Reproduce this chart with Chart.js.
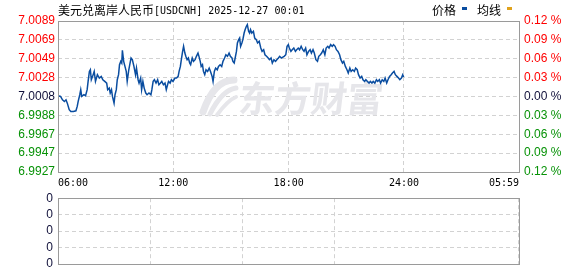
<!DOCTYPE html>
<html><head><meta charset="utf-8">
<script src="https://cdn.jsdelivr.net/npm/chart.js@4.4.1/dist/chart.umd.min.js"></script>
<style>
html,body{margin:0;padding:0;background:#fff;width:578px;height:276px;overflow:hidden}
#c1{position:absolute;left:0;top:0}
#c2{position:absolute;left:0;top:186px}
</style></head><body>
<canvas id="c1" width="578" height="190"></canvas>
<canvas id="c2" width="578" height="90"></canvas>
<script>
// ---- data (minutes after 06:00, price) ----
const minutes=[0,8,14,20,25,29,35,40,48,56,
60,63,68,71,74,81,86,91,94,98,
101,104,108,113,117,123,129,135,140,146,
152,155,160,163,167,170,175,178,182,185,
189,192,196,199,201,205,209,213,216,221,
224,228,232,237,242,245,250,253,258,261,
265,269,274,278,284,290,293,297,301,306,
311,315,320,324,329,334,338,342,345,350,
354,359,365,370,375,378,382,385,389,392,
396,399,403,407,411,414,419,423,428,432,
437,440,444,447,451,454,458,462,467,472,
476,481,484,488,492,497,501,506,511,515,
520,524,529,534,538,543,546,550,553,557,
560,564,567,570,574,577,581,584,588,591,
595,598,601,605,610,614,619,623,628,633,
637,642,646,651,656,660,665,669,674,679,
683,688,692,697,702,706,711,715,719,722,
727,731,736,741,745,750,754,759,764,768,
773,777,782,787,791,796,800,805,810,814,
819,823,828,833,837,842,846,851,856,860,
865,869,874,879,883,888,892,897,902,906,
911,915,920,925,929,934,938,943,948,952,
957,961,966,971,975,980,984,989,994,998,
1003,1007,1012,1017,1021,1026,1030,1035,1040,1044,
1049,1053,1058,1063,1067,1072,1076,1079];
const prices=[7.00088,7.00081,7.00045,7.00027,7.00045,7.00009,6.99938,6.99920,6.99920,6.99927,
6.99974,7.00027,7.00099,7.00153,7.00081,7.00099,7.00088,7.00153,7.00242,7.00349,
7.00367,7.00260,7.00296,7.00349,7.00242,7.00314,7.00278,7.00296,7.00260,7.00242,
7.00224,7.00153,7.00170,7.00117,7.00153,7.00081,7.00009,7.00099,7.00153,7.00260,
7.00314,7.00421,7.00457,7.00439,7.00575,7.00457,7.00403,7.00349,7.00242,7.00367,
7.00421,7.00493,7.00475,7.00403,7.00314,7.00385,7.00260,7.00224,7.00278,7.00153,
7.00242,7.00170,7.00117,7.00099,7.00117,7.00099,7.00153,7.00242,7.00260,7.00224,
7.00260,7.00206,7.00224,7.00242,7.00206,7.00224,7.00153,7.00206,7.00242,7.00224,
7.00260,7.00242,7.00278,7.00278,7.00296,7.00349,7.00403,7.00475,7.00564,7.00618,
7.00546,7.00511,7.00475,7.00493,7.00439,7.00421,7.00493,7.00457,7.00475,7.00511,
7.00546,7.00511,7.00457,7.00403,7.00421,7.00349,7.00314,7.00367,7.00349,7.00385,
7.00349,7.00296,7.00242,7.00349,7.00385,7.00367,7.00403,7.00421,7.00403,7.00457,
7.00493,7.00528,7.00511,7.00546,7.00511,7.00493,7.00457,7.00439,7.00493,7.00564,
7.00654,7.00690,7.00707,7.00618,7.00654,7.00690,7.00761,7.00797,7.00833,7.00851,
7.00779,7.00761,7.00797,7.00761,7.00779,7.00707,7.00690,7.00654,7.00672,7.00600,
7.00564,7.00582,7.00528,7.00511,7.00493,7.00475,7.00493,7.00439,7.00475,7.00457,
7.00475,7.00493,7.00511,7.00493,7.00503,7.00511,7.00528,7.00618,7.00636,7.00600,
7.00564,7.00582,7.00600,7.00564,7.00582,7.00600,7.00582,7.00618,7.00582,7.00564,
7.00600,7.00528,7.00564,7.00582,7.00546,7.00582,7.00546,7.00475,7.00457,7.00511,
7.00528,7.00546,7.00582,7.00528,7.00600,7.00618,7.00600,7.00636,7.00618,7.00636,
7.00618,7.00582,7.00564,7.00528,7.00475,7.00439,7.00457,7.00403,7.00367,7.00332,
7.00385,7.00349,7.00367,7.00349,7.00385,7.00367,7.00314,7.00278,7.00296,7.00260,
7.00242,7.00260,7.00242,7.00224,7.00242,7.00224,7.00242,7.00224,7.00260,7.00242,
7.00260,7.00224,7.00260,7.00242,7.00278,7.00224,7.00260,7.00296,7.00314,7.00332,
7.00349,7.00314,7.00296,7.00278,7.00260,7.00278,7.00314,7.00289];
const priceMin=6.9927, priceMax=7.0089;
const priceLabels=['6.9927','6.9947','6.9967','6.9988','7.0008','7.0028','7.0049','7.0069','7.0089'];
const pctLabels=['0.12 %','0.09 %','0.06 %','0.03 %','0.00 %','0.03 %','0.06 %','0.09 %','0.12 %'];
const timeTickValues=[0,360,720,1080,1439];
const timeLabels=['06:00','12:00','18:00','24:00','05:59'];
const volumes=[];
const volLabels=['0','0','0','0','0'];
const titleCn='美元兑离岸人民币', titleEn='[USDCNH] 2025-12-27 00:01';
const legendItems=[{text:'价格',color:'#0a4da0'},{text:'均线',color:'#e0a21c'}];
const watermark='东方财富';

// ---- style ----
const RED='#ff0000', GREEN='#079207', ZERO='#10103a', GRID='#d2d2d2', BOX='#9a9a9a';
const LEFTW=58, RIGHTW=59;
Chart.defaults.font.family='"Liberation Sans", Arial, sans-serif';
Chart.defaults.font.size=12;

function labelColor(i){ return i>4?RED:(i===4?ZERO:GREEN); }
function evenTicks(scale,n){ const t=[]; for(let i=0;i<n;i++) t.push({value:scale.min+(scale.max-scale.min)*i/(n-1)}); scale.ticks=t; }
const gridColor=(ctx)=>{ const n=ctx.scale.ticks.length; return (ctx.index===0||ctx.index===n-1)?'rgba(0,0,0,0)':GRID; };

const boxPlugin={id:'box',afterDraw(chart){const a=chart.chartArea,c=chart.ctx;c.save();c.strokeStyle=BOX;c.lineWidth=1;c.strokeRect(Math.round(a.left)+0.5,Math.round(a.top)+0.5,Math.round(a.right-a.left),Math.round(a.bottom-a.top));c.restore();}};

const decoPlugin={id:'deco',
 beforeDatasetsDraw(chart){
  const c=chart.ctx; c.save();
  c.fillStyle='#e6e6ea'; c.strokeStyle='#e6e6ea';
  // swoosh icon
  c.lineCap='round';
  const sw=[[203,112,214,80,234,80,7],[210,114,222,90,236,88,5],[217,115,228,100,236,97,4]];
  sw.forEach(s=>{c.lineWidth=s[6];c.beginPath();c.moveTo(s[0],s[1]);c.quadraticCurveTo(s[2],s[3],s[4],s[5]);c.stroke();});
  c.setTransform(1,0,-0.12,1,12,0);
  c.font='bold 36px "Noto Sans CJK SC"'; c.textBaseline='middle'; c.textAlign='left';
  c.fillText(watermark,239,98);
  c.restore();
 },
 afterDraw(chart){
  const c=chart.ctx; c.save(); c.textBaseline='alphabetic'; c.fillStyle='#000';
  c.font='12px "Noto Sans CJK SC"'; c.fillText(titleCn,58,15);
  const w=c.measureText(titleCn).width;
  c.font='10px "DejaVu Sans Mono"'; c.fillText(titleEn,58+w,14);
  let x=432;
  legendItems.forEach(it=>{ c.font='12px "Noto Sans CJK SC"'; c.fillStyle='#000'; c.fillText(it.text,x,15);
    const tw=c.measureText(it.text).width; c.fillStyle=it.color; c.fillRect(x+tw+6,7,5,3); x+=tw+21; });
  c.restore();
 }};

new Chart(document.getElementById('c1'),{
 type:'line',
 data:{datasets:[{data:minutes.map((m,i)=>({x:m,y:prices[i]})),borderColor:'#0a4da0',borderWidth:1.5,pointRadius:0,tension:0,yAxisID:'y'}]},
 options:{responsive:false,animation:false,devicePixelRatio:1,
  layout:{padding:{top:21,left:0,right:0,bottom:0}},
  plugins:{legend:{display:false},tooltip:{enabled:false}},
  scales:{
   x:{type:'linear',min:0,max:1439,
     afterBuildTicks(s){s.ticks=timeTickValues.map(v=>({value:v}));},
     afterFit(s){s.height=18;},
     grid:{color:gridColor,drawTicks:false,lineWidth:1},
     border:{display:false,dash:[4,3]},
     ticks:{autoSkip:false,maxRotation:0,align:'inner',padding:5,color:'#000',font:{family:'"DejaVu Sans Mono"',size:10},
       callback:(v,i)=>timeLabels[i]}},
   y:{position:'left',min:priceMin,max:priceMax,
     afterBuildTicks(s){evenTicks(s,priceLabels.length);},
     afterFit(s){s.width=LEFTW;},
     grid:{color:gridColor,drawTicks:false},
     border:{display:false,dash:[4,3]},
     ticks:{padding:3,color:(ctx)=>labelColor(ctx.index),callback:(v,i)=>priceLabels[i]}},
   yR:{position:'right',min:priceMin,max:priceMax,
     afterBuildTicks(s){evenTicks(s,pctLabels.length);},
     afterFit(s){s.width=RIGHTW;},
     grid:{display:false,drawTicks:false},
     border:{display:false},
     ticks:{padding:5,color:(ctx)=>labelColor(ctx.index),callback:(v,i)=>pctLabels[i]}}
  }},
 plugins:[decoPlugin,boxPlugin]
});

new Chart(document.getElementById('c2'),{
 type:'bar',
 data:{datasets:[{data:volumes,backgroundColor:'#0a4da0'}]},
 options:{responsive:false,animation:false,devicePixelRatio:1,
  layout:{padding:{top:10,left:0,right:RIGHTW,bottom:6}},
  plugins:{legend:{display:false},tooltip:{enabled:false}},
  scales:{
   x:{type:'linear',min:0,max:1439,
     afterBuildTicks(s){s.ticks=timeTickValues.map(v=>({value:v}));},
     afterFit(s){s.height=0;},
     grid:{color:gridColor,drawTicks:false},
     border:{display:false,dash:[4,3]},
     ticks:{display:false}},
   y:{min:0,max:volLabels.length-1,
     afterBuildTicks(s){evenTicks(s,volLabels.length);},
     afterFit(s){s.width=LEFTW;},
     grid:{color:gridColor,drawTicks:false},
     border:{display:false,dash:[4,3]},
     ticks:{padding:5,color:ZERO,callback:(v,i)=>volLabels[i]}}
  }},
 plugins:[boxPlugin]
});
</script>
</body></html>
